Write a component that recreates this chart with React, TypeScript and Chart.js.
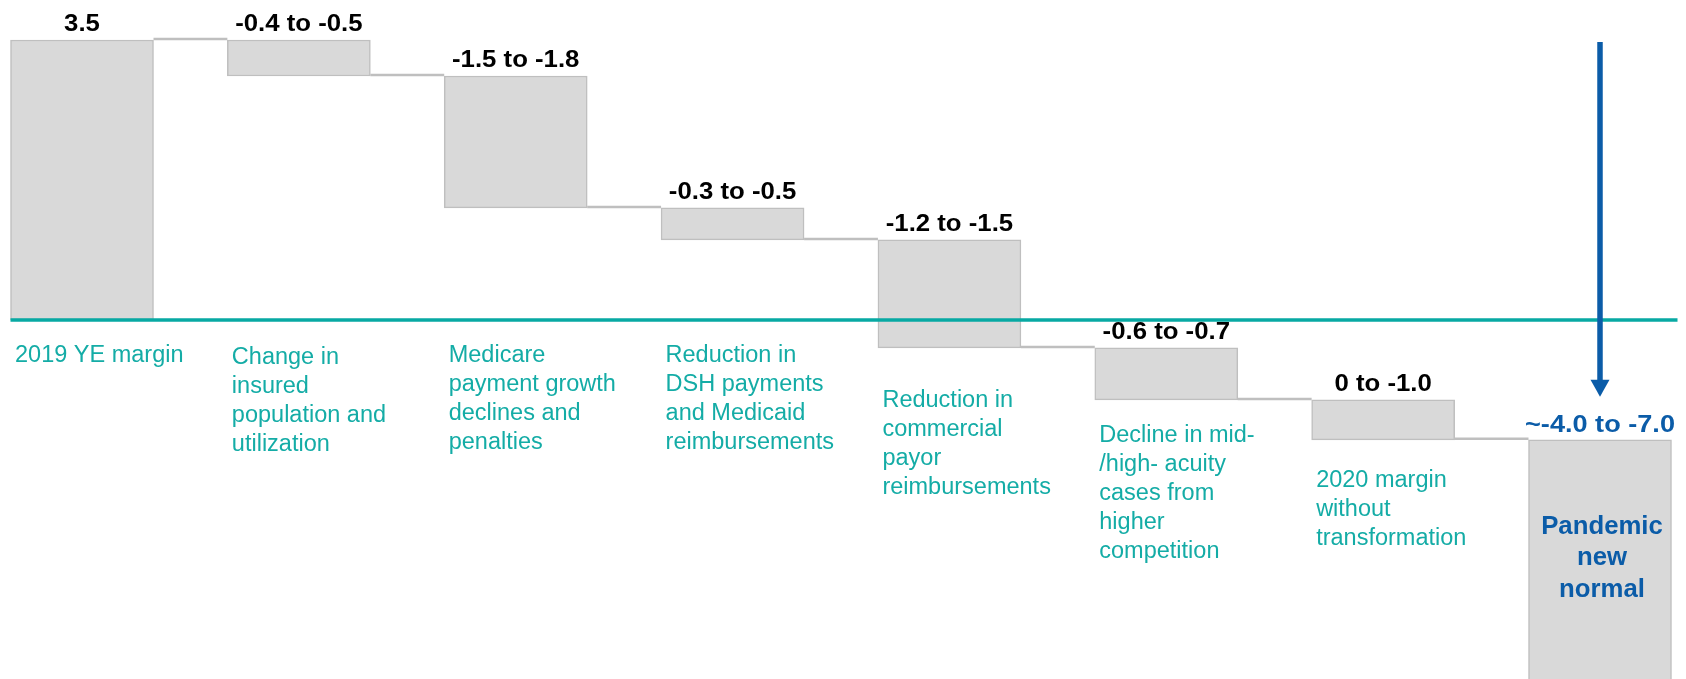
import React, { useEffect, useRef } from "react";
import { Chart, registerables } from "chart.js";

Chart.register(...registerables);

// ---------- data ----------
const categories: string[][] = [
  ["2019 YE margin"],
  ["Change in", "insured", "population and", "utilization"],
  ["Medicare", "payment growth", "declines and", "penalties"],
  ["Reduction in", "DSH payments", "and Medicaid", "reimbursements"],
  ["Reduction in", "commercial", "payor", "reimbursements"],
  ["Decline in mid-", "/high- acuity", "cases from", "higher", "competition"],
  ["2020 margin", "without", "transformation"],
  ["Pandemic", "new", "normal"],
];
const rangeLabels = [
  "3.5",
  "-0.4 to -0.5",
  "-1.5 to -1.8",
  "-0.3 to -0.5",
  "-1.2 to -1.5",
  "-0.6 to -0.7",
  "0 to -1.0",
  "~-4.0 to -7.0",
];
const rangeFrom = [3.5, -0.4, -1.5, -0.3, -1.2, -0.6, 0, -4.0];
const rangeTo = [3.5, -0.5, -1.8, -0.5, -1.5, -0.7, -1.0, -7.0];
const barKinds = ["start", "delta", "delta", "delta", "delta", "delta", "delta", "end"];
const yMin = -4.49;
const yMax = 4;

// floating bars built from the ranges (midpoint of each range)
function buildBars(): { ranges: [number, number][]; levels: number[] } {
  const ranges: [number, number][] = [];
  const levels: number[] = [];
  let cum = 0;
  for (let i = 0; i < rangeFrom.length; i++) {
    const mid = (rangeFrom[i] + rangeTo[i]) / 2;
    if (barKinds[i] === "start") {
      ranges.push([0, mid]);
      cum = mid;
    } else if (barKinds[i] === "delta") {
      ranges.push([cum, cum + mid]);
      cum = cum + mid;
    } else {
      ranges.push([cum, mid]);
    }
    levels.push(cum);
  }
  return { ranges, levels };
}

// ---------- styles ----------
const BAR_FILL = "#D9D9D9";
const BAR_BORDER = "#BFBFBF";
const TEAL_LINE = "#07A9A3";
const TEAL_TEXT = "#14ACA6";
const BLUE = "#0B5CA8";
const FONT = "'Liberation Sans', Arial, sans-serif";

function drawText(
  ctx: CanvasRenderingContext2D,
  text: string,
  x: number,
  y: number,
  sx: number,
  align: CanvasTextAlign
) {
  ctx.save();
  ctx.translate(x, y);
  ctx.scale(sx, 1);
  ctx.textAlign = align;
  ctx.textBaseline = "alphabetic";
  ctx.fillText(text, 0, 0);
  ctx.restore();
}

const labelNudge = [0, 2, 0, 0, 17, 0, 5, 0];

const waterfallPlugin = {
  id: "waterfallDecor",
  afterDatasetsDraw(chart: any) {
    const ctx: CanvasRenderingContext2D = chart.ctx;
    const meta = chart.getDatasetMeta(0);
    const yScale = chart.scales.y;
    const area = chart.chartArea;
    const { levels } = buildBars();
    const zeroY = yScale.getPixelForValue(0);

    const rects = meta.data.map((el: any) => {
      const p = el.getProps(["x", "y", "base", "width"], true);
      return {
        left: p.x - p.width / 2,
        right: p.x + p.width / 2,
        top: Math.min(p.y, p.base),
        bottom: Math.max(p.y, p.base),
        cx: p.x,
      };
    });

    ctx.save();
    // connectors
    ctx.strokeStyle = BAR_BORDER;
    ctx.lineWidth = 2.5;
    for (let i = 0; i < rects.length - 1; i++) {
      const y = yScale.getPixelForValue(levels[i]) - 1;
      ctx.beginPath();
      ctx.moveTo(rects[i].right, y);
      ctx.lineTo(rects[i + 1].left, y);
      ctx.stroke();
    }

    // teal baseline
    ctx.strokeStyle = TEAL_LINE;
    ctx.lineWidth = 3.5;
    ctx.beginPath();
    ctx.moveTo(rects[0].left, zeroY);
    ctx.lineTo(rects[rects.length - 1].right + 6, zeroY);
    ctx.stroke();

    // value labels
    for (let i = 0; i < rects.length; i++) {
      const r = rects[i];
      if (barKinds[i] === "end") {
        ctx.fillStyle = BLUE;
        ctx.font = `bold 24px ${FONT}`;
        drawText(ctx, rangeLabels[i], r.cx, r.top - 8, 1.13, "center");
      } else {
        ctx.fillStyle = "#000000";
        ctx.font = `bold 23px ${FONT}`;
        drawText(ctx, rangeLabels[i], r.cx, r.top - 9, 1.12, "center");
      }
    }

    // category labels
    for (let i = 0; i < rects.length; i++) {
      const r = rects[i];
      const lines = categories[i];
      if (barKinds[i] === "end") {
        ctx.fillStyle = BLUE;
        ctx.font = `bold 25px ${FONT}`;
        const center = (r.top + area.bottom) / 2;
        const lh = 31.5;
        const first = center + 6 - ((lines.length - 1) / 2) * lh;
        lines.forEach((ln, k) => drawText(ctx, ln, r.cx + 2, first + k * lh, 1.03, "center"));
      } else {
        ctx.fillStyle = TEAL_TEXT;
        ctx.font = `23.5px ${FONT}`;
        const first = Math.max(r.bottom, zeroY) + 42 + labelNudge[i];
        lines.forEach((ln, k) => drawText(ctx, ln, r.left + 4.5, first + k * 29, 1, "left"));
      }
    }

    // arrow to final bar
    const last = rects[rects.length - 1];
    const ax = last.cx;
    const aTop = yScale.getPixelForValue(rangeFrom[0]) + 2;
    const aTip = last.top - 43;
    const headH = 17;
    const headW = 9.5;
    ctx.strokeStyle = BLUE;
    ctx.fillStyle = BLUE;
    ctx.lineWidth = 5.5;
    ctx.beginPath();
    ctx.moveTo(ax, aTop);
    ctx.lineTo(ax, aTip - headH + 1);
    ctx.stroke();
    ctx.beginPath();
    ctx.moveTo(ax - headW, aTip - headH);
    ctx.lineTo(ax + headW, aTip - headH);
    ctx.lineTo(ax, aTip);
    ctx.closePath();
    ctx.fill();

    ctx.restore();
  },
};

export default function App() {
  const canvasRef = useRef<HTMLCanvasElement | null>(null);

  useEffect(() => {
    if (!canvasRef.current) return;
    const { ranges } = buildBars();
    const chart = new Chart(canvasRef.current, {
      type: "bar",
      data: {
        labels: categories,
        datasets: [
          {
            data: ranges as any,
            backgroundColor: BAR_FILL,
            borderColor: BAR_BORDER,
            borderWidth: 1.5,
            borderSkipped: false,
            barThickness: 143,
            clip: false,
          } as any,
        ],
      },
      options: {
        animation: false,
        responsive: true,
        maintainAspectRatio: false,
        events: [],
        layout: { padding: { left: 82, right: 86, top: 0, bottom: 0 } },
        plugins: {
          legend: { display: false },
          tooltip: { enabled: false },
        },
        scales: {
          x: { type: "category", display: false, offset: false, grid: { display: false } },
          y: { display: false, min: yMin, max: yMax, grid: { display: false } },
        },
      },
      plugins: [waterfallPlugin],
    });
    return () => chart.destroy();
  }, []);

  return (
    <div
      style={{
        position: "absolute",
        left: 0,
        top: 0,
        width: 1686,
        height: 679,
        background: "#ffffff",
      }}
    >
      <canvas ref={canvasRef} />
    </div>
  );
}
